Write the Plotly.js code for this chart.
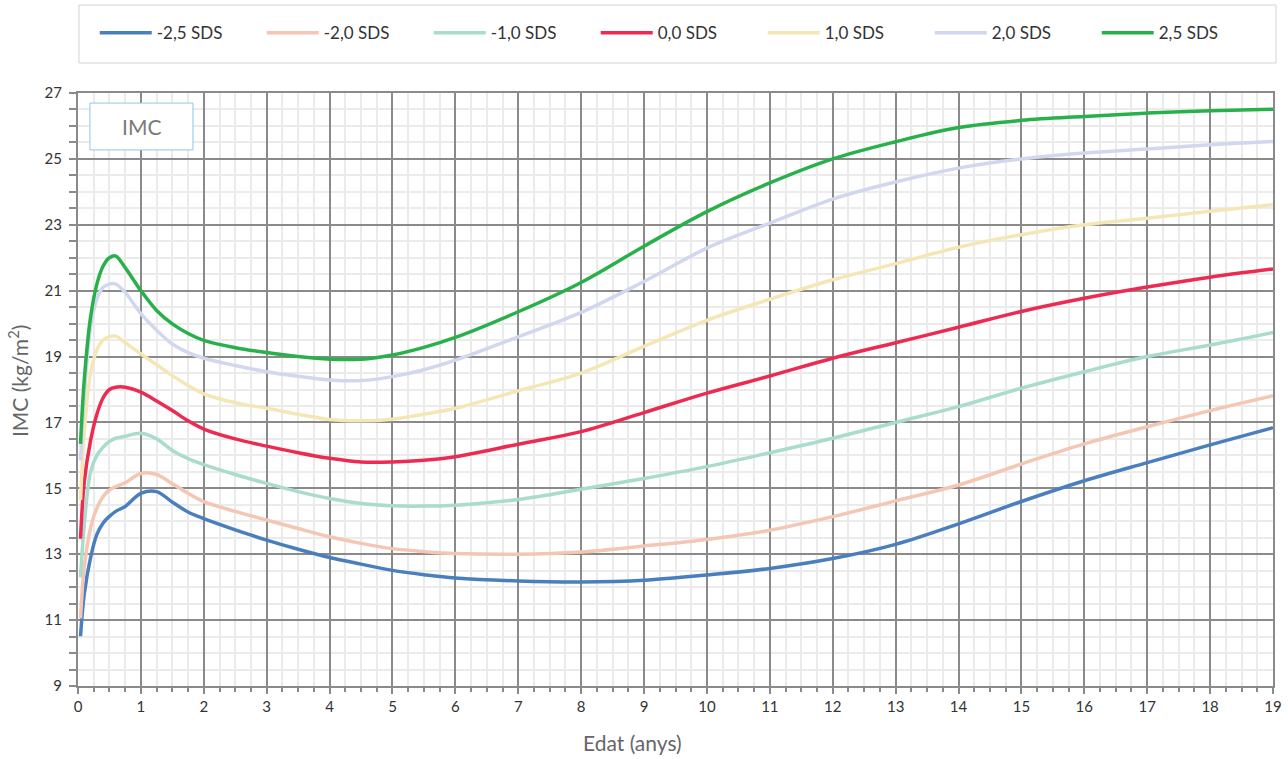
<!DOCTYPE html>
<html>
<head>
<meta charset="utf-8">
<script src="https://cdn.plot.ly/plotly-3.0.1.min.js"></script>
<style>html,body{margin:0;padding:0;background:#fff;}#chart{width:1288px;height:759px;}</style>
</head>
<body>
<div id="chart"></div>
<script>
const ages = [0.04,0.1,0.2,0.3,0.4,0.5,0.6,0.75,1,1.25,1.5,1.75,2,2.5,3,3.5,4,4.5,5,5.5,6,7,8,9,10,11,12,13,14,15,16,17,18,19];

const sdsM25 = [10.51,11.8,12.9,13.6,13.95,14.15,14.3,14.45,14.85,14.9,14.58,14.28,14.08,13.74,13.43,13.15,12.9,12.7,12.51,12.38,12.28,12.19,12.16,12.21,12.37,12.57,12.87,13.3,13.92,14.6,15.23,15.78,16.32,16.84];
const sdsM20 = [11.05,12.6,13.8,14.4,14.75,14.95,15.05,15.17,15.45,15.42,15.14,14.85,14.6,14.3,14.04,13.78,13.53,13.33,13.17,13.08,13.02,13.0,13.07,13.25,13.45,13.73,14.14,14.62,15.1,15.74,16.35,16.87,17.36,17.81];
const sdsM10 = [12.3,13.9,15.5,16.0,16.25,16.42,16.52,16.58,16.67,16.5,16.15,15.9,15.72,15.42,15.15,14.9,14.69,14.54,14.47,14.46,14.49,14.66,14.97,15.3,15.66,16.08,16.52,17.0,17.48,18.04,18.54,19.0,19.35,19.73];
const sds00 = [13.47,15.2,16.45,17.25,17.75,18.0,18.07,18.07,17.92,17.65,17.36,17.05,16.8,16.5,16.28,16.08,15.91,15.8,15.8,15.85,15.96,16.34,16.72,17.3,17.89,18.41,18.95,19.42,19.89,20.37,20.77,21.11,21.41,21.66];
const sdsP10 = [14.65,16.7,18.5,19.2,19.5,19.6,19.62,19.42,19.08,18.75,18.42,18.12,17.87,17.6,17.43,17.25,17.09,17.05,17.1,17.25,17.43,17.96,18.5,19.31,20.1,20.74,21.33,21.82,22.32,22.7,23.0,23.2,23.41,23.61];
const sdsP20 = [15.85,17.8,19.9,20.75,21.1,21.2,21.2,20.95,20.3,19.8,19.38,19.12,18.95,18.73,18.54,18.4,18.29,18.27,18.39,18.6,18.89,19.6,20.34,21.28,22.29,23.05,23.78,24.3,24.72,25.0,25.18,25.3,25.43,25.53];
const sdsP25 = [16.35,18.3,20.2,21.2,21.75,22.0,22.05,21.7,21.0,20.4,19.99,19.7,19.49,19.27,19.12,19.0,18.92,18.92,19.05,19.28,19.58,20.36,21.25,22.35,23.4,24.27,25.0,25.52,25.95,26.17,26.29,26.39,26.46,26.51];

const seriesNames = ['-2,5 SDS','-2,0 SDS','-1,0 SDS','0,0 SDS','1,0 SDS','2,0 SDS','2,5 SDS'];
const seriesValues = [sdsM25, sdsM20, sdsM10, sds00, sdsP10, sdsP20, sdsP25];
const seriesColors = ['#4a7fbd','#f4c6b4','#a9dcca','#ec2a52','#f5e7b5','#d1d7ee','#28b04a'];

const xTickVals = [0,1,2,3,4,5,6,7,8,9,10,11,12,13,14,15,16,17,18,19];
const yTickVals = [9,11,13,15,17,19,21,23,25,27];

const traces = seriesNames.map((n, i) => ({
  x: ages, y: seriesValues[i], name: n, type: 'scatter', mode: 'lines',
  line: {color: seriesColors[i], width: 3.5, shape: 'spline', smoothing: 1},
  hoverinfo: 'x+y+name'
}));

const gridDark = '#8a8a8a';
const gridLight = '#ebebeb';

const layout = {
  width: 1288, height: 759,
  margin: {l: 78, r: 15, t: 93, b: 73},
  paper_bgcolor: '#fff', plot_bgcolor: '#fff',
  font: {family: 'Lato, "Open Sans", sans-serif', color: '#333', size: 15},
  showlegend: true,
  legend: {
    orientation: 'h', x: 0.014, xanchor: 'left', y: 1.101, yanchor: 'middle',
    entrywidth: 100, entrywidthmode: 'pixels', itemwidth: 52,
    font: {family: 'Lato, sans-serif', size: 17, color: '#333'},
    bgcolor: 'rgba(0,0,0,0)', borderwidth: 0
  },
  xaxis: {
    range: [0, 19], tickvals: xTickVals, ticktext: xTickVals.map(String),
    showgrid: true, gridcolor: gridDark, gridwidth: 2,
    zeroline: false, showline: true, linecolor: gridDark, linewidth: 2, mirror: true,
    ticks: 'outside', ticklen: 6, tickwidth: 2, tickcolor: gridDark,
    tickfont: {size: 15, color: '#333'},
    minor: {dtick: 0.25, tick0: 0, showgrid: true, gridcolor: gridLight, gridwidth: 1.5, ticks: 'outside', ticklen: 4, tickwidth: 1.5, tickcolor: gridDark},
    layer: 'below traces'
  },
  yaxis: {
    range: [9, 27], tickvals: yTickVals, ticktext: yTickVals.map(String),
    showgrid: true, gridcolor: gridDark, gridwidth: 2,
    zeroline: false, showline: true, linecolor: gridDark, linewidth: 2, mirror: true,
    ticks: 'outside', ticklen: 7, tickwidth: 2, tickcolor: gridDark,
    tickfont: {size: 15, color: '#333'}, ticklabelstandoff: 4,
    minor: {dtick: 0.5, tick0: 9, showgrid: true, gridcolor: gridLight, gridwidth: 1.5, ticks: 'outside', ticklen: 7, tickwidth: 1.5, tickcolor: gridDark}
  },
  shapes: [
    {type: 'rect', xref: 'paper', yref: 'paper', x0: 0.0008, x1: 1.0025, y0: 1.0506, y1: 1.1484,
     line: {color: '#d2d2d2', width: 1}, fillcolor: 'rgba(0,0,0,0)', layer: 'below'},
    {type: 'rect', xref: 'paper', yref: 'paper', x0: 0.010, x1: 0.0962, y0: 0.904, y1: 0.983,
     line: {color: '#8fc7ea', width: 1}, fillcolor: '#ffffff', layer: 'above'}
  ],
  annotations: [
    {text: 'IMC', xref: 'paper', yref: 'paper', x: 0.0531, y: 0.943, xanchor: 'center', yanchor: 'middle',
     showarrow: false, font: {size: 21, color: '#7a7a7a', family: 'Lato, sans-serif'}},
    {text: 'Edat (anys)', xref: 'paper', yref: 'paper', x: 0.4636, y: -0.0961, xanchor: 'center', yanchor: 'middle',
     showarrow: false, font: {size: 21, color: '#666', family: 'Lato, sans-serif'}},
    {text: 'IMC (kg/m<sup>2</sup>)', xref: 'paper', yref: 'paper', x: -0.0502, y: 0.5143, xanchor: 'center', yanchor: 'middle',
     textangle: -90, showarrow: false, font: {size: 21, color: '#666', family: 'Lato, sans-serif'}}
  ]
};

Plotly.newPlot('chart', traces, layout, {displayModeBar: false});
</script>
</body>
</html>
